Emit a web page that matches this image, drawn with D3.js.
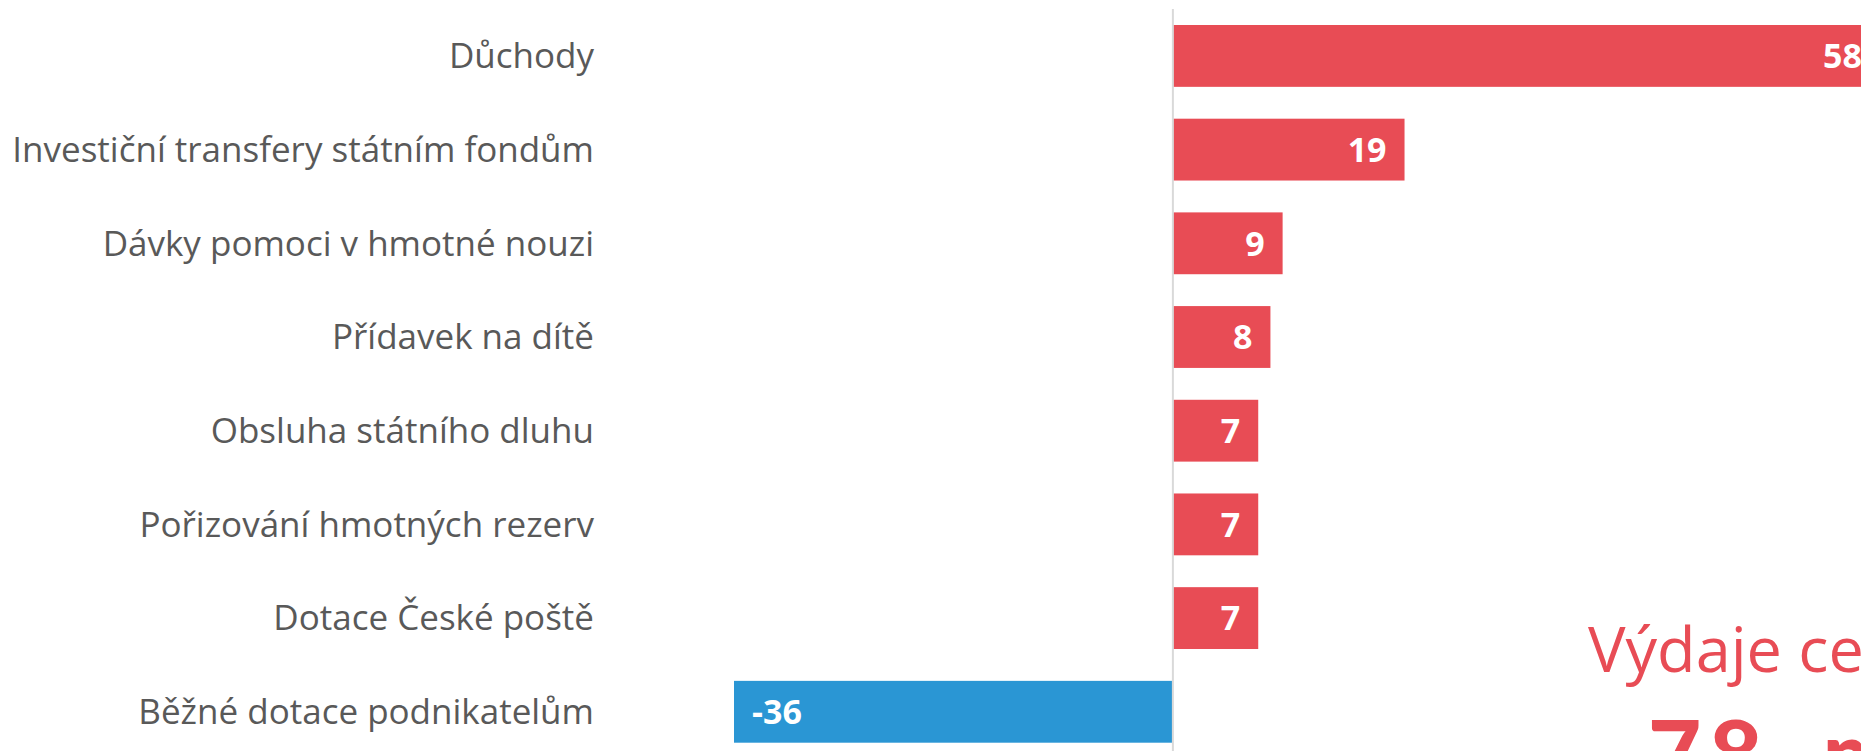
<!DOCTYPE html>
<html>
<head>
<meta charset="utf-8">
<script src="https://cdn.jsdelivr.net/npm/d3@7"></script>
<style>
  html, body { margin: 0; padding: 0; background: #fff; overflow: hidden; }
  svg { display: block; }
</style>
</head>
<body>
<svg id="chart" width="1861" height="751"></svg>
<script>
const categories = [
  "Důchody",
  "Investiční transfery státním fondům",
  "Dávky pomoci v hmotné nouzi",
  "Přídavek na dítě",
  "Obsluha státního dluhu",
  "Pořizování hmotných rezerv",
  "Dotace České poště",
  "Běžné dotace podnikatelům"
];
const values = [58, 19, 9, 8, 7, 7, 7, -36];
const totalLabel = "Výdaje celkem";
const totalValue = "78 mld. Kč";

const W = 1861, H = 751;
const svg = d3.select("#chart");

const x = d3.scaleLinear().domain([-36, 58]).range([734, 1880]);
const y = d3.scaleBand().domain(categories).range([25, 742.7]).paddingInner(0.34).paddingOuter(0);

const red = "#E84C55", blue = "#2A96D4";

// bars
svg.append("g").selectAll("rect").data(values).join("rect")
  .attr("x", (d) => x(Math.min(0, d)))
  .attr("y", (d, i) => y(categories[i]))
  .attr("width", (d) => Math.abs(x(d) - x(0)))
  .attr("height", y.bandwidth())
  .attr("fill", (d) => d < 0 ? blue : red);

// value labels
svg.append("g").selectAll("text").data(values).join("text")
  .attr("x", (d) => d < 0 ? x(d) + 18 : x(d) - 18)
  .attr("y", (d, i) => y(categories[i]) + y.bandwidth() / 2)
  .attr("dy", "0.36em")
  .attr("text-anchor", (d) => d < 0 ? "start" : "end")
  .attr("fill", "#fff")
  .style("font-family", "'Open Sans', sans-serif")
  .style("font-weight", "700")
  .style("font-size", "34px")
  .text((d) => d);

// category axis
const axis = d3.axisLeft(y).tickSize(0).tickPadding(0);
const ga = svg.append("g").attr("transform", "translate(594,0)").call(axis);
ga.select(".domain").remove();
ga.selectAll("text")
  .attr("fill", "#595959")
  .attr("dy", "0.35em")
  .style("font-family", "'Open Sans', sans-serif")
  .style("font-size", "35px");

// zero line
svg.append("line")
  .attr("x1", x(0)).attr("x2", x(0))
  .attr("y1", 9).attr("y2", H)
  .attr("stroke", "#d9d9d9").attr("stroke-width", 2);

// total annotation
svg.append("text")
  .attr("x", 1588).attr("y", 672)
  .attr("fill", red)
  .style("font-family", "'Open Sans', sans-serif")
  .style("font-size", "63px")
  .text(totalLabel);
svg.append("text")
  .attr("x", 1648).attr("y", 787)
  .attr("fill", red)
  .style("font-family", "Lato, 'Open Sans', sans-serif")
  .style("font-weight", "900")
  .style("font-size", "92px")
  .style("letter-spacing", "8px")
  .style("word-spacing", "22px")
  .text(totalValue);
</script>
</body>
</html>
